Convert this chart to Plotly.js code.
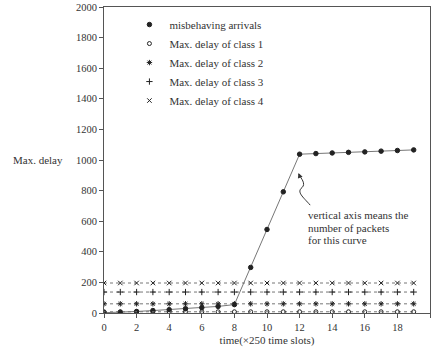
<!DOCTYPE html>
<html>
<head>
<meta charset="utf-8">
<script src="https://cdn.plot.ly/plotly-3.0.1.min.js"></script>
<style>html,body{margin:0;padding:0;background:#fff;}#chart{width:434px;height:347px;}</style>
</head>
<body>
<div id="chart"></div>
<script>
const timeSlots = [0,1,2,3,4,5,6,7,8,9,10,11,12,13,14,15,16,17,18,19];
const misbehavingArrivals = [2,5,10,16,22,28,35,43,55,298,546,792,1038,1042,1046,1050,1053,1058,1062,1066];
const maxDelayClass1 = [8,8,8,8,8,8,8,8,8,8,8,8,8,8,8,8,8,8,8,8];
const maxDelayClass2 = [60,60,60,60,60,60,60,60,60,60,60,60,60,60,60,60,60,60,60,60];
const maxDelayClass3 = [137,137,137,137,137,137,137,137,137,137,137,137,137,137,137,137,137,137,137,137];
const maxDelayClass4 = [196,196,196,196,196,196,196,196,196,196,196,196,196,196,196,196,196,196,196,196];
const seriesNames = ["misbehaving arrivals","Max. delay of class 1","Max. delay of class 2","Max. delay of class 3","Max. delay of class 4"];
const xTickVals = [0,2,4,6,8,10,12,14,16,18,20];
const yTickVals = [0,200,400,600,800,1000,1200,1400,1600,1800,2000];

const serif = "Liberation Serif, DejaVu Serif, serif";
const ink = "#333";
const series = [misbehavingArrivals, maxDelayClass1, maxDelayClass2, maxDelayClass3, maxDelayClass4];
const symbols = ["circle","circle-open","asterisk-open","cross-thin-open","x-thin-open"];
const sizes = [4.5,4,4.5,4.5,4.5];
const dashes = ["solid","dot","dot","dot","dot"];

const traces = [];
series.forEach((ys, i) => {
  traces.push({
    x: timeSlots, y: ys, type: "scatter", mode: "lines+markers",
    showlegend: false, hoverinfo: "skip",
    line: {color: "#777", width: 1, dash: dashes[i]},
    marker: {symbol: symbols[i], size: sizes[i], color: "#222", line: {color: "#222", width: 1}}
  });
});
series.forEach((ys, i) => {
  traces.push({
    x: [null], y: [null], type: "scatter", mode: "markers", name: seriesNames[i],
    marker: {symbol: symbols[i], size: sizes[i], color: "#222", line: {color: "#222", width: 1}}
  });
});

const layout = {
  width: 434, height: 347,
  margin: {l: 104, r: 4, t: 7, b: 34},
  paper_bgcolor: "#fff", plot_bgcolor: "#fff",
  font: {family: serif, size: 11, color: ink},
  showlegend: true,
  legend: {x: 0.078, y: 0.99, xanchor: "left", yanchor: "top", bgcolor: "rgba(0,0,0,0)",
           font: {family: serif, size: 11, color: ink}, borderwidth: 0},
  xaxis: {
    range: [0, 20], tickvals: xTickVals, ticks: "outside", ticklen: 4, tickcolor: "#555",
    showgrid: false, zeroline: false, showline: true, linecolor: "#555", linewidth: 1, mirror: true,
    tickfont: {family: serif, size: 10.5, color: ink},
    title: {text: "time(×250 time slots)", standoff: 4, font: {family: serif, size: 11, color: ink}}
  },
  yaxis: {
    range: [0, 2000], tickvals: yTickVals, ticks: "outside", ticklen: 4, tickcolor: "#555",
    showgrid: false, zeroline: false, showline: true, linecolor: "#555", linewidth: 1, mirror: true,
    tickfont: {family: serif, size: 10.5, color: ink}
  },
  shapes: [{
    type: "path", xref: "x", yref: "y",
    path: "M 12.65 705 C 12.2 760, 11.8 790, 12.15 820 C 12.4 845, 12.1 880, 11.95 905",
    line: {color: "#333", width: 1}
  }],
  annotations: [
    {xref: "paper", yref: "y", x: -0.2025, y: 1000, text: "Max. delay", showarrow: false,
     xanchor: "center", yanchor: "middle", font: {family: serif, size: 11, color: ink}},
    {xref: "x", yref: "y", x: 11.93, y: 915, ax: 12.02, ay: 890, axref: "x", ayref: "y",
     text: "", showarrow: true, arrowhead: 2, arrowsize: 1, arrowwidth: 1, arrowcolor: "#333"},
    {xref: "x", yref: "y", x: 12.4, y: 638, text: "vertical axis means the", showarrow: false,
     xanchor: "left", yanchor: "middle", font: {family: serif, size: 11, color: ink}},
    {xref: "x", yref: "y", x: 12.4, y: 553, text: "number of packets", showarrow: false,
     xanchor: "left", yanchor: "middle", font: {family: serif, size: 11, color: ink}},
    {xref: "x", yref: "y", x: 12.4, y: 474, text: "for this curve", showarrow: false,
     xanchor: "left", yanchor: "middle", font: {family: serif, size: 11, color: ink}}
  ]
};

Plotly.newPlot("chart", traces, layout, {displayModeBar: false, staticPlot: true});
</script>
</body>
</html>
